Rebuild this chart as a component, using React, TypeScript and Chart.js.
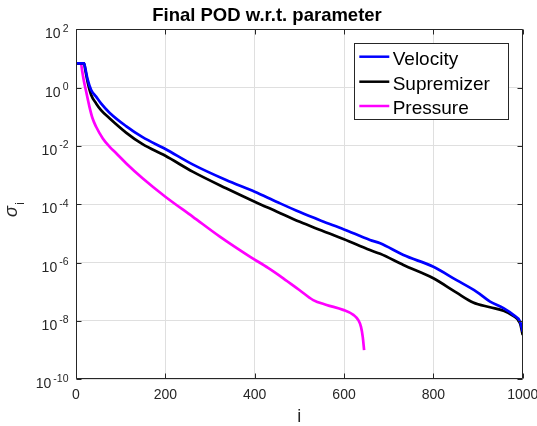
import React, { useEffect, useRef } from "react";
import { Chart, registerables } from "chart.js";

Chart.register(...registerables);

const chartTitle = "Final POD w.r.t. parameter";
const xAxisTitle = "i";
const xTicks = [0, 200, 400, 600, 800, 1000];
const yTickExponents = [-10, -8, -6, -4, -2, 0, 2];
const seriesNames = ["Velocity", "Supremizer", "Pressure"];
const seriesColors = ["#0000ff", "#000000", "#ff00ff"];

const velocityI = [1, 18, 21, 26, 34, 45, 56, 75, 112, 149, 200, 261, 336, 400, 450, 501, 550, 600, 658, 681, 733, 800, 852, 897, 927, 957, 979, 994, 1000];
const velocitySigma = [6.82, 6.82, 4.47, 1.91, 0.83, 0.49, 0.288, 0.138, 0.0479, 0.02, 7.9e-3, 2.34e-3, 6.8e-4, 2.7e-4, 1.2e-4, 5.4e-5, 2.7e-5, 1.38e-5, 6.0e-6, 4.6e-6, 1.82e-6, 7.2e-7, 2.5e-7, 1.0e-7, 4.6e-8, 2.75e-8, 1.62e-8, 9.5e-9, 4.3e-9];

const supremizerI = [1, 18, 21, 26, 34, 45, 56, 75, 112, 149, 200, 261, 336, 400, 450, 501, 550, 600, 658, 681, 733, 800, 852, 889, 927, 957, 979, 994, 1000];
const supremizerSigma = [6.82, 6.82, 3.98, 1.58, 0.56, 0.288, 0.17, 0.089, 0.0288, 0.0115, 4.6e-3, 1.32e-3, 3.55e-4, 1.23e-4, 5.6e-5, 2.5e-5, 1.26e-5, 6.3e-6, 2.7e-6, 2.0e-6, 8.3e-7, 2.9e-7, 9.3e-8, 4.3e-8, 2.95e-8, 2.24e-8, 1.48e-8, 8.3e-9, 3.3e-9];

const pressureI = [1, 11, 14, 18, 22, 30, 37, 45, 60, 75, 90, 112, 149, 200, 261, 322, 390, 430, 464, 500, 531, 561, 598, 621, 632, 638, 642, 645];
const pressureSigma = [6.82, 6.82, 3.55, 1.58, 0.83, 0.224, 0.089, 0.0457, 0.0182, 9.5e-3, 5.6e-3, 2.57e-3, 7.8e-4, 1.82e-4, 3.8e-5, 7.8e-6, 1.58e-6, 6.6e-7, 2.9e-7, 1.15e-7, 5.2e-8, 3.55e-8, 2.4e-8, 1.62e-8, 1.07e-8, 6.3e-9, 2.8e-9, 1.0e-9];

const FONT = '"Liberation Sans", Arial, Helvetica, sans-serif';
const AXIS = "#262626";
const GRID = "#dfdfdf";

function toPoints(xs: number[], ys: number[]) {
  return xs.map((x, k) => ({ x, y: ys[k] }));
}

export default function App() {
  const ref = useRef<HTMLCanvasElement>(null);

  useEffect(() => {
    document.body.style.margin = "0";
    const canvas = ref.current!;

    const decor = {
      id: "decor",
      afterDraw(chart: any) {
        const ctx = chart.ctx as CanvasRenderingContext2D;
        const { left, right, top, bottom } = chart.chartArea;
        const xs = chart.scales.x;
        const ys = chart.scales.y;
        const L = Math.round(left) + 0.5;
        const R = Math.round(right) - 0.5;
        const T = Math.round(top) + 0.5;
        const B = Math.round(bottom) - 0.5;
        ctx.save();
        ctx.strokeStyle = AXIS;
        ctx.lineWidth = 1;
        ctx.beginPath();
        ctx.rect(L, T, R - L, B - T);
        ctx.stroke();
        const tl = 5;
        ctx.beginPath();
        for (const v of xTicks) {
          const px = Math.round(xs.getPixelForValue(v)) + 0.5;
          ctx.moveTo(px, B);
          ctx.lineTo(px, B - tl);
          ctx.moveTo(px, T);
          ctx.lineTo(px, T + tl);
        }
        for (const e of yTickExponents) {
          const py = Math.round(ys.getPixelForValue(Math.pow(10, e))) + 0.5;
          ctx.moveTo(L, py);
          ctx.lineTo(L + tl, py);
          ctx.moveTo(R, py);
          ctx.lineTo(R - tl, py);
        }
        ctx.stroke();

        ctx.fillStyle = AXIS;
        ctx.font = `14px ${FONT}`;
        ctx.textAlign = "center";
        ctx.textBaseline = "alphabetic";
        for (const v of xTicks) {
          ctx.fillText(String(v), xs.getPixelForValue(v), bottom + 19.2);
        }
        for (const e of yTickExponents) {
          const py = ys.getPixelForValue(Math.pow(10, e));
          const expText = String(e);
          ctx.font = `10.5px ${FONT}`;
          ctx.textAlign = "right";
          const ew = ctx.measureText(expText).width;
          const expRight = left - 7.5;
          ctx.fillText(expText, expRight, py + 2.4);
          ctx.font = `14px ${FONT}`;
          ctx.fillText("10", expRight - ew - 2, py + 9);
        }

        ctx.fillStyle = "#000000";
        ctx.font = `bold 18.5px ${FONT}`;
        ctx.textAlign = "center";
        ctx.fillText(chartTitle, 267, 20.7);

        ctx.fillStyle = AXIS;
        ctx.font = `18px ${FONT}`;
        ctx.fillText(xAxisTitle, (left + right) / 2, 421.5);

        ctx.save();
        ctx.translate(17, 217);
        ctx.rotate(-Math.PI / 2);
        ctx.textAlign = "left";
        ctx.font = `italic 18px ${FONT}`;
        ctx.fillText("σ", 0, 0);
        const sw = ctx.measureText("σ").width;
        ctx.font = `12px ${FONT}`;
        ctx.fillText("i", sw + 1.5, 7);
        ctx.restore();

        const bx = 354.5, by = 43.5, bw = 154, bh = 76;
        ctx.fillStyle = "#ffffff";
        ctx.fillRect(bx, by, bw, bh);
        ctx.strokeStyle = AXIS;
        ctx.lineWidth = 1;
        ctx.strokeRect(bx, by, bw, bh);
        const rows = [56.7, 81.7, 106];
        chart.data.datasets.forEach((ds: any, k: number) => {
          const ry = rows[k];
          ctx.strokeStyle = ds.borderColor;
          ctx.lineWidth = 2.5;
          ctx.beginPath();
          ctx.moveTo(359.3, ry);
          ctx.lineTo(389.3, ry);
          ctx.stroke();
          ctx.fillStyle = "#000000";
          ctx.font = `19px ${FONT}`;
          ctx.textAlign = "left";
          ctx.fillText(ds.label, 392.7, ry + 8.3);
        });
        ctx.restore();
      },
    };

    const chart = new Chart(canvas, {
      type: "line",
      data: {
        datasets: [
          { label: seriesNames[0], data: toPoints(velocityI, velocitySigma), borderColor: seriesColors[0] },
          { label: seriesNames[1], data: toPoints(supremizerI, supremizerSigma), borderColor: seriesColors[1] },
          { label: seriesNames[2], data: toPoints(pressureI, pressureSigma), borderColor: seriesColors[2] },
        ].map((d) => ({
          ...d,
          borderWidth: 2.7,
          pointRadius: 0,
          fill: false,
          cubicInterpolationMode: "monotone" as const,
        })),
      },
      options: {
        animation: false,
        responsive: false,
        devicePixelRatio: 1,
        layout: { padding: { top: 29.3, right: 14.3, left: 0, bottom: 0 } },
        plugins: {
          legend: { display: false },
          title: { display: false },
          tooltip: { enabled: false },
        },
        scales: {
          x: {
            type: "linear",
            min: 0,
            max: 1000,
            afterBuildTicks: (s: any) => {
              s.ticks = xTicks.map((v) => ({ value: v }));
            },
            afterFit: (s: any) => {
              s.height = 46.7;
            },
            ticks: { display: false },
            grid: { color: GRID, drawTicks: false, lineWidth: 1 },
            border: { display: false },
          },
          y: {
            type: "logarithmic",
            min: 1e-10,
            max: 1e2,
            afterBuildTicks: (s: any) => {
              s.ticks = yTickExponents.map((e) => ({ value: Math.pow(10, e) }));
            },
            afterFit: (s: any) => {
              s.width = 76;
            },
            ticks: { display: false },
            grid: { color: GRID, drawTicks: false, lineWidth: 1 },
            border: { display: false },
          },
        },
      },
      plugins: [decor],
    });
    return () => chart.destroy();
  }, []);

  return (
    <div style={{ position: "absolute", left: 0, top: 0, width: 537, height: 426, background: "#ffffff" }}>
      <canvas ref={ref} width={537} height={426} style={{ display: "block", width: 537, height: 426 }} />
    </div>
  );
}
